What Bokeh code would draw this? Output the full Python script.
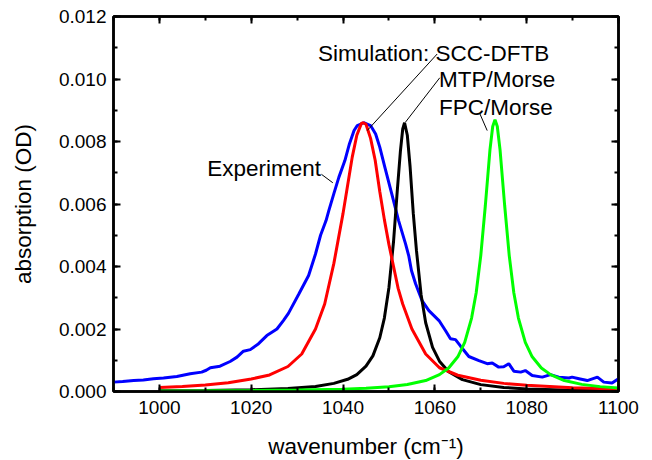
from bokeh.plotting import figure
from bokeh.models import FixedTicker, LinearAxis, PrintfTickFormatter, CustomJSTickFormatter
from bokeh.core.properties import value
from bokeh.embed import file_html
from bokeh.resources import INLINE

# ---- data ----
x_ticks = [1000, 1020, 1040, 1060, 1080, 1100]
x_minor = [990, 1000, 1010, 1020, 1030, 1040, 1050, 1060, 1070, 1080, 1090, 1100]
y_ticks = [0.0, 0.002, 0.004, 0.006, 0.008, 0.010, 0.012]
y_minor = [0.0, 0.001, 0.002, 0.003, 0.004, 0.005, 0.006, 0.007, 0.008, 0.009, 0.010, 0.011, 0.012]

exp_x = [990, 992, 994.4, 996.5, 998.7, 1000.9, 1003.8, 1006.7, 1009.2, 1010.2, 1011.1, 1013.2,
         1015.4, 1016.9, 1018.3, 1019.8, 1021.6, 1023.4, 1025.6, 1027.0, 1028.1, 1030.4, 1032.5,
         1034.0, 1035.1, 1036.3, 1036.9, 1038.0, 1039.1, 1040.4, 1041.4, 1042.4, 1043.1, 1044.5,
         1046.0, 1047.1, 1048.0, 1049.1, 1050.6, 1052.1, 1053.6, 1054.3, 1054.9, 1055.8, 1057.2,
         1058.7, 1060.9, 1062.3, 1063.4, 1064.5, 1065.6, 1067.4, 1069.6, 1071.4, 1072.5, 1073.9,
         1075.0, 1076.1, 1077.2, 1078.7, 1079.7, 1081.2, 1083.4, 1085.2, 1087.0, 1089.2, 1089.9,
         1091.4, 1093.2, 1095.4, 1096.8, 1098.6, 1100]
exp_y = [0.00030, 0.00032, 0.00035, 0.00037, 0.00041, 0.00043, 0.00048, 0.00057, 0.00062, 0.00068,
         0.00076, 0.00081, 0.00096, 0.00110, 0.00129, 0.00134, 0.00153, 0.00179, 0.00200, 0.00227,
         0.00250, 0.00313, 0.00371, 0.00440, 0.00500, 0.00547, 0.00579, 0.00633, 0.00686, 0.00739,
         0.00793, 0.00835, 0.00851, 0.00860, 0.00851, 0.00824, 0.00782, 0.00718, 0.00633, 0.00547,
         0.00473, 0.00435, 0.00387, 0.00345, 0.00291, 0.00259, 0.00227, 0.00195, 0.00169, 0.00166,
         0.00145, 0.00112, 0.00099, 0.00089, 0.00091, 0.00078, 0.00079, 0.00089, 0.00065, 0.00062,
         0.00067, 0.00051, 0.00046, 0.00054, 0.00046, 0.00043, 0.00046, 0.00041, 0.00035, 0.00046,
         0.00030, 0.00027, 0.00041]

dftb_x = [1000, 1005, 1010, 1015, 1020, 1024, 1028, 1031, 1034, 1036, 1038, 1039, 1040, 1041,
          1042, 1043, 1044, 1044.4, 1045, 1046, 1047, 1048, 1049, 1050, 1051, 1052, 1053, 1055,
          1058, 1061, 1065, 1070, 1075, 1080, 1090, 1100]
dftb_y = [0.00013, 0.00016, 0.00021, 0.00028, 0.00040, 0.00053, 0.00080, 0.00120, 0.00200,
          0.00280, 0.00410, 0.00490, 0.00570, 0.00660, 0.00750, 0.00820, 0.00858, 0.00860,
          0.00855, 0.00810, 0.00740, 0.00640, 0.00550, 0.00470, 0.00400, 0.00330, 0.00280,
          0.00200, 0.00120, 0.00076, 0.00052, 0.00036, 0.00026, 0.00020, 0.00012, 0.00008]

mtp_x = [1000, 1010, 1020, 1028, 1034, 1038, 1041, 1043, 1045, 1046.5, 1048, 1049, 1050, 1051,
         1051.8, 1052.5, 1053, 1053.4, 1054, 1054.6, 1055.3, 1056, 1057, 1058, 1059.5, 1061, 1063,
         1066, 1070, 1075, 1080, 1090, 1100]
mtp_y = [0.000022, 0.000033, 0.000056, 0.000096, 0.00016, 0.00026, 0.00039, 0.00054, 0.00081,
         0.00114, 0.00172, 0.00235, 0.00333, 0.00480, 0.00640, 0.00770, 0.00840, 0.00860, 0.00820,
         0.00720, 0.00570, 0.00450, 0.00310, 0.00220, 0.00141, 0.00097, 0.00063, 0.00038, 0.00022,
         0.00013, 0.00008, 0.00004, 0.00003]

fpc_x = [1000, 1010, 1020, 1030, 1040, 1045, 1050, 1054, 1058, 1061, 1063, 1065, 1066.5, 1068,
         1069, 1070, 1071, 1072, 1072.6, 1073.1, 1073.6, 1074.2, 1075.2, 1076.2, 1077.2, 1078.2,
         1079.7, 1081.2, 1083.2, 1085.2, 1088.2, 1092, 1096, 1100]
fpc_y = [0.000016, 0.000021, 0.00003, 0.000045, 0.000076, 0.000105, 0.000154, 0.000223, 0.00035,
         0.00054, 0.00075, 0.00111, 0.00157, 0.00235, 0.00316, 0.00435, 0.00596, 0.00773, 0.00848,
         0.00870, 0.00848, 0.00773, 0.00596, 0.00435, 0.00316, 0.00235, 0.00157, 0.00111, 0.00075,
         0.00054, 0.00035, 0.000228, 0.000156, 0.000114]

FONT = "Liberation Sans"

p = figure(frame_width=505, frame_height=375, x_range=(990, 1100), y_range=(0, 0.012),
           output_backend="svg", toolbar_location=None,
           min_border_left=113, min_border_right=34, min_border_top=16, min_border_bottom=69)
p.grid.visible = False
p.outline_line_color = "black"
p.outline_line_width = 2.5
p.background_fill_color = "white"
p.border_fill_color = "white"

def style_axis(ax, ticks, minor, show_labels):
    ax.ticker = FixedTicker(ticks=ticks, minor_ticks=minor)
    ax.axis_line_width = 2.5
    ax.axis_line_color = "black"
    ax.major_tick_in = 7
    ax.major_tick_out = 0
    ax.minor_tick_in = 4
    ax.minor_tick_out = 0
    ax.major_tick_line_width = 2
    ax.minor_tick_line_width = 2
    ax.major_tick_line_color = "black"
    ax.minor_tick_line_color = "black"
    if show_labels:
        ax.major_label_text_font = FONT
        ax.major_label_text_font_size = "19px"
        ax.major_label_text_color = "black"
        ax.axis_label_text_font = FONT
        ax.axis_label_text_font_size = "22.5px"
        ax.axis_label_text_font_style = "normal"
        ax.axis_label_text_color = "black"
    else:
        ax.formatter = CustomJSTickFormatter(code="return ''")
        ax.major_label_text_font_size = "1px"
        ax.major_label_standoff = 0
        ax.axis_label = None

xa = p.xaxis[0]
style_axis(xa, x_ticks, x_minor, True)
xa.axis_label = "wavenumber (cm\u207b\u00b9)"
xa.major_label_standoff = 9
xa.axis_label_standoff = 17

ya = p.yaxis[0]
style_axis(ya, y_ticks, y_minor, True)
ya.formatter = PrintfTickFormatter(format="%.3f")
ya.axis_label = "absorption (OD)"
ya.major_label_standoff = 7
ya.axis_label_standoff = 20

top = LinearAxis()
style_axis(top, x_ticks, x_minor, False)
p.add_layout(top, "above")
right = LinearAxis()
style_axis(right, y_ticks, y_minor, False)
p.add_layout(right, "right")

p.line(exp_x, exp_y, line_color="#0000FF", line_width=3)
p.line(mtp_x, mtp_y, line_color="#000000", line_width=3)
p.line(dftb_x, dftb_y, line_color="#FF0000", line_width=3)
p.line(fpc_x, fpc_y, line_color="#00FF00", line_width=3)

# annotations
p.text(x=[1034.55, 1060.9, 1060.9, 1010.4], y=[0.01083, 0.009975, 0.0091, 0.00715],
       text=["Simulation: SCC-DFTB", "MTP/Morse", "FPC/Morse", "Experiment"],
       text_font=value(FONT), text_font_size="22.5px", text_color="black",
       text_align="left", text_baseline="alphabetic")
p.segment(x0=[1060.5, 1061.07, 1069.8, 1035.3], y0=[0.0108, 0.01004, 0.00889, 0.00695],
          x1=[1045.26, 1053.6, 1071.4, 1037.77], y1=[0.00835, 0.00862, 0.00835, 0.00668],
          line_color="black", line_width=1)

open("out.html", "w").write(file_html(p, INLINE))
